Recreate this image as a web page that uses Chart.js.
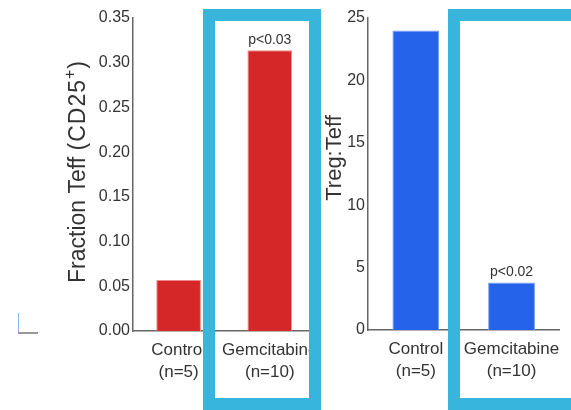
<!DOCTYPE html>
<html>
<head>
<meta charset="utf-8">
<script src="https://cdn.jsdelivr.net/npm/chart.js@4"></script>
<style>
  html, body { margin: 0; padding: 0; background: #fff; overflow: hidden; }
  #wrap { position: relative; width: 571px; height: 410px; }
  canvas { position: absolute; top: 0; }
  .caixa { position: absolute; box-sizing: border-box; border: 12px solid #37b5dc; }
</style>
</head>
<body>
<div id="wrap">
  <canvas id="grafic-fraccio" width="330" height="410" style="left:0"></canvas>
  <canvas id="grafic-ratio" width="261" height="410" style="left:310px"></canvas>
  <div class="caixa" style="left:203px; top:9px; width:118px; height:401px"></div>
  <div class="caixa" style="left:448px; top:9px; width:135px; height:401px"></div>
</div>
<script>
// dades llegides de la figura
const categories = [['Control', '(n=5)'], ['Gemcitabine', '(n=10)']];
const fraccioTeff = [0.057, 0.314];
const tregTeff = [24.0, 3.8];
const pFraccio = ['', 'p<0.03'];
const pRatio = ['', 'p<0.02'];

const textColor = '#333';
const family = '"Liberation Sans", Arial, sans-serif';

// etiquetes p sobre les barres
function pluginEtiquetes(labels) {
  return {
    id: 'etiquetesP',
    afterDatasetsDraw(chart) {
      const ctx = chart.ctx;
      const meta = chart.getDatasetMeta(0);
      ctx.save();
      ctx.font = '14px ' + family;
      ctx.fillStyle = textColor;
      ctx.textAlign = 'center';
      ctx.textBaseline = 'bottom';
      meta.data.forEach((bar, i) => {
        if (labels[i]) ctx.fillText(labels[i], bar.x, bar.y - 3);
      });
      ctx.restore();
    }
  };
}

// títol de l'eix Y amb mides de lletra diferents
function pluginTitol(titol) {
  return {
    id: 'titolY',
    afterDraw(chart) {
      const ctx = chart.ctx;
      ctx.save();
      ctx.fillStyle = textColor;
      ctx.textBaseline = 'alphabetic';
      ctx.textAlign = 'left';
      const mida = p => {
        ctx.font = p.size + 'px ' + family;
        ctx.letterSpacing = (p.spacing || 0) + 'px';
        return ctx.measureText(p.text).width;
      };
      let total = 0;
      titol.parts.forEach(p => { total += mida(p); });
      ctx.translate(titol.x, titol.y);
      ctx.rotate(-Math.PI / 2);
      let x = -total / 2;
      titol.parts.forEach(p => {
        const w = mida(p);
        ctx.fillText(p.text, x, 8 + (p.shift || 0));
        x += w;
      });
      ctx.restore();
      if (titol.marca) {
        ctx.save();
        ctx.strokeStyle = '#8fb0f0';
        ctx.lineWidth = 1;
        ctx.beginPath();
        ctx.moveTo(18.5, 313);
        ctx.lineTo(18.5, 332);
        ctx.stroke();
        ctx.strokeStyle = '#777';
        ctx.lineWidth = 1.5;
        ctx.beginPath();
        ctx.moveTo(18, 333);
        ctx.lineTo(38, 333);
        ctx.stroke();
        ctx.restore();
      }
    }
  };
}

function crearGrafic(id, dades, color, vora, maxY, pas, decimals, pLabels, padding, ampleY, altX, titol) {
  return new Chart(document.getElementById(id).getContext('2d'), {
    type: 'bar',
    data: {
      labels: categories,
      datasets: [{
        data: dades,
        backgroundColor: color,
        borderColor: vora,
        borderWidth: 1,
        categoryPercentage: 1,
        barPercentage: 0.49
      }]
    },
    options: {
      responsive: false,
      animation: false,
      layout: { padding: padding },
      plugins: {
        legend: { display: false },
        tooltip: { enabled: false }
      },
      scales: {
        x: {
          grid: { display: false, drawTicks: false },
          border: { display: true, color: '#666', width: 1.5 },
          ticks: {
            color: textColor,
            padding: 9,
            maxRotation: 0,
            autoSkip: false,
            font: { family: family, size: 17, lineHeight: 1.25 }
          },
          afterFit(scale) { scale.height = altX; }
        },
        y: {
          min: 0,
          max: maxY,
          grid: { display: false, drawTicks: false },
          border: { display: true, color: '#666', width: 1.5 },
          ticks: {
            stepSize: pas,
            color: textColor,
            padding: 3,
            font: { family: family, size: 16 },
            callback: v => v.toFixed(decimals)
          },
          afterFit(scale) { scale.width = ampleY; }
        }
      }
    },
    plugins: [pluginEtiquetes(pLabels), pluginTitol(titol)]
  });
}

crearGrafic('grafic-fraccio', fraccioTeff, '#d62728', '#ef8a8a', 0.35, 0.05, 2, pFraccio,
  { left: 0, top: 18, right: 14, bottom: 0 }, 133, 79,
  { x: 77, y: 172, marca: true, parts: [
    { text: 'Fraction Teff ', size: 23 },
    { text: '(CD25', size: 23, spacing: 1 },
    { text: '+', size: 16, shift: -10, spacing: 1 },
    { text: ')', size: 23 }
  ] });

crearGrafic('grafic-ratio', tregTeff, '#2463ea', '#7fa3f5', 25, 5, 0, pRatio,
  { left: 0, top: 18, right: 11, bottom: 0 }, 58, 80,
  { x: 23, y: 158, parts: [{ text: 'Treg:Teff', size: 22 }] });
</script>
</body>
</html>
